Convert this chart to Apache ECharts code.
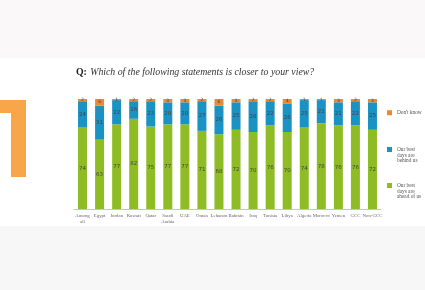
<!DOCTYPE html>
<html><head><meta charset="utf-8">
<script src="https://cdn.jsdelivr.net/npm/echarts@6/dist/echarts.min.js"></script>
<style>html,body{margin:0;padding:0;background:#fff}#c{width:425px;height:290px}</style>
</head><body><div id="c"></div>
<script>
const categories = ['Among\nall','Egypt','Jordan','Kuwait','Qatar','Saudi\nArabia','UAE','Oman','Lebanon','Bahrain','Iraq','Tunisia','Libya','Algeria','Morocco','Yemen','GCC','Non-GCC'];
const ahead  = [74,63,77,82,75,77,77,71,68,72,70,76,70,74,78,76,76,72];
const behind = [24,31,22,16,23,20,20,27,26,25,28,22,26,25,21,21,22,25];
const dontKnow = [2,6,1,2,2,3,3,2,6,3,2,2,4,1,1,3,2,3];
const seriesNames = ["Our best\ndays are\nahead of us","Our best\ndays are\nbehind us","Don't know"];

const chart = echarts.init(document.getElementById('c'), null, {renderer:'canvas'});
const lbl = {show:true, position:'inside', fontSize:5.5, color:'#444', fontFamily:'DejaVu Sans'};
const mkLegend = (name, top, multi) => ({
  data:[name], left:387, top:top, orient:'vertical', padding:0,
  itemWidth:5, itemHeight: multi ? 16.5 : 5,
  icon: multi ? 'path://M0,0L10,0L10,10L0,10Z M0,33L0,33' : 'rect',
  textStyle:{fontSize:5.3, color:'#555', fontFamily:'Liberation Serif', lineHeight:5.5}
});
chart.setOption({
  animation:false,
  backgroundColor:'#ffffff',
  graphic:[
    {type:'rect', shape:{x:0,y:0,width:425,height:58}, style:{fill:'#faf8f9'}, z:-10},
    {type:'rect', shape:{x:0,y:226,width:425,height:64}, style:{fill:'#f8f7f7'}, z:-10},
    {type:'polygon', shape:{points:[[0,100],[26,100],[26,177],[11,177],[11,113],[0,113]]}, style:{fill:'#f9a64b'}},
    {type:'text', left:76, top:66, style:{
      text:'{q|Q:} {t|Which of the following statements is closer to your view?}',
      rich:{q:{fontFamily:'Liberation Serif', fontWeight:'bold', fontSize:9.8, fill:'#222'},
            t:{fontFamily:'Liberation Serif', fontStyle:'italic', fontSize:9.8, fill:'#333'}}
    }}
  ],
  legend:[mkLegend(seriesNames[2],110,false), mkLegend(seriesNames[1],147,true), mkLegend(seriesNames[0],183,true)],
  grid:{left:74, right:44, top:99, bottom:81},
  xAxis:{type:'category', data:categories,
    axisLine:{lineStyle:{color:'#b8c8d8'}}, axisTick:{show:false},
    axisLabel:{fontSize:4.8, color:'#666', fontFamily:'Liberation Serif', interval:0, lineHeight:5.5, margin:4}},
  yAxis:{type:'value', min:0, max:100, show:false, splitLine:{show:false}},
  series:[
    {name:seriesNames[0], type:'bar', stack:'a', data:ahead, barWidth:9, itemStyle:{color:'#8fbc25'}, label:lbl},
    {name:seriesNames[1], type:'bar', stack:'a', data:behind, itemStyle:{color:'#1b92c4'}, label:lbl},
    {name:seriesNames[2], type:'bar', stack:'a', data:dontKnow, itemStyle:{color:'#f0882a'}, label:Object.assign({},lbl,{fontSize:4.5})}
  ]
});
</script></body></html>
